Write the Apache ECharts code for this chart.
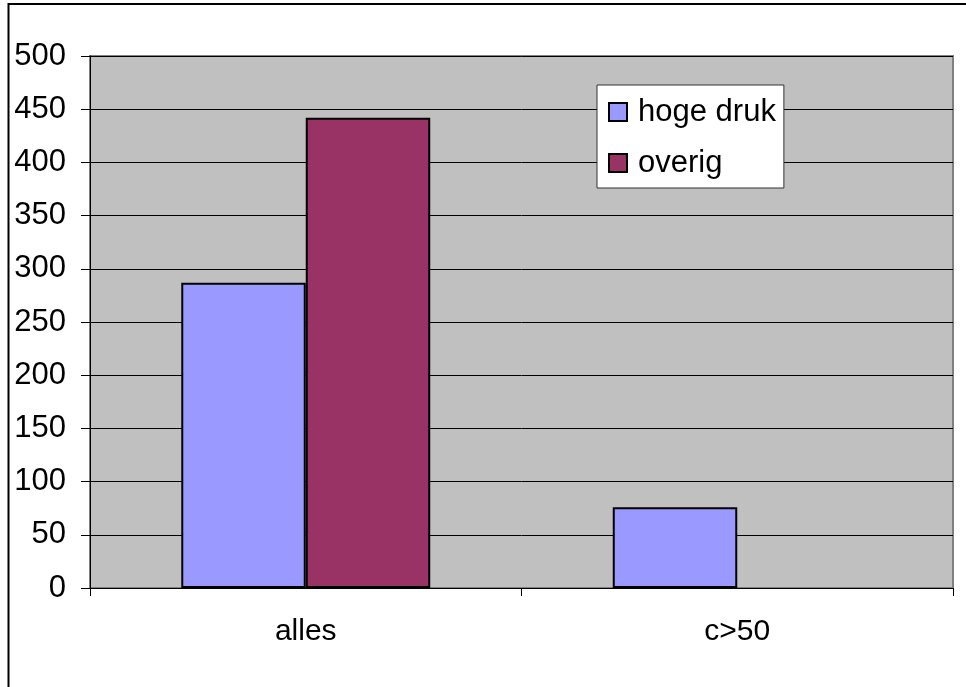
<!DOCTYPE html>
<html>
<head>
<meta charset="utf-8">
<script src="https://cdn.jsdelivr.net/npm/echarts@6/dist/echarts.min.js"></script>
<style>
html,body{margin:0;padding:0;background:#fff;}
#chart{width:966px;height:687px;}
</style>
</head>
<body>
<div id="chart"></div>
<script>
const categories = ['alles', 'c>50'];
const hogeDruk = [287, 76];
const overig = [442, null];
const seriesNames = ['hoge druk', 'overig'];

const chart = echarts.init(document.getElementById('chart'), null, {renderer: 'canvas'});
const font = 'Liberation Sans, Arial, sans-serif';
chart.setOption({
  animation: false,
  backgroundColor: '#fff',
  graphic: [{
    type: 'rect',
    shape: {x: 8.5, y: 4, width: 1000, height: 1000},
    style: {fill: 'none', stroke: '#000', lineWidth: 2},
    z: 100
  }],
  grid: {
    left: 90, top: 56, right: 13, bottom: 99,
    show: true,
    backgroundColor: '#C0C0C0',
    borderColor: '#808080',
    borderWidth: 2
  },
  legend: {
    orient: 'vertical',
    left: 597, top: 85,
    data: seriesNames,
    backgroundColor: '#fff',
    borderColor: '#333',
    borderWidth: 1,
    borderRadius: 0,
    padding: [11, 8, 9, 11],
    itemWidth: 18,
    itemHeight: 18,
    itemGap: 19,
    icon: 'rect',
    itemStyle: {borderColor: '#000', borderWidth: 2},
    textStyle: {fontFamily: font, fontSize: 31, color: '#000', lineHeight: 32, padding: [0, 0, 0, 6]}
  },
  xAxis: {
    type: 'category',
    data: categories,
    axisLine: {lineStyle: {color: '#000', width: 1}},
    axisTick: {show: true, length: 8, lineStyle: {color: '#000'}},
    axisLabel: {fontFamily: font, fontSize: 30, color: '#000', margin: 29}
  },
  yAxis: {
    type: 'value',
    min: 0, max: 500, interval: 50,
    axisLine: {show: true, lineStyle: {color: '#000', width: 1}},
    axisTick: {show: true, length: 9, lineStyle: {color: '#000'}},
    axisLabel: {fontFamily: font, fontSize: 31, color: '#000', margin: 24},
    splitLine: {show: true, lineStyle: {color: '#000', width: 1}}
  },
  series: [
    {
      name: seriesNames[0], type: 'bar', data: hogeDruk,
      barGap: 0, barCategoryGap: '42.3%',
      itemStyle: {color: '#9999FF', borderColor: '#000', borderWidth: 2}
    },
    {
      name: seriesNames[1], type: 'bar', data: overig,
      barGap: 0, barCategoryGap: '42.3%',
      itemStyle: {color: '#993366', borderColor: '#000', borderWidth: 2}
    }
  ]
});
</script>
</body>
</html>
